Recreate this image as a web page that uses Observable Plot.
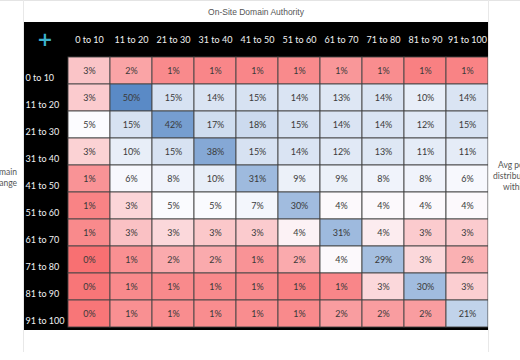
<!DOCTYPE html>
<html><head><meta charset="utf-8">
<script src="https://cdn.jsdelivr.net/npm/d3@7"></script>
<script src="https://cdn.jsdelivr.net/npm/@observablehq/plot@0.6"></script>
<style>
body{margin:0;background:#fff;}
#chart svg{display:block;}
</style>
</head><body><div id="chart"></div>
<script>
const colLabels = ["0 to 10","11 to 20","21 to 30","31 to 40","41 to 50","51 to 60","61 to 70","71 to 80","81 to 90","91 to 100"];
const rowLabels = ["0 to 10","11 to 20","21 to 30","31 to 40","41 to 50","51 to 60","61 to 70","71 to 80","81 to 90","91 to 100"];
// percent values per off-site row (decimals estimated from cell shading)
const r0_10   = [2.8, 1.8, 1.0, 0.9, 0.9, 1.0, 1.4, 1.1, 0.7, 0.8];
const r11_20  = [3.0, 50, 15, 14, 15, 14, 13, 14, 10, 14];
const r21_30  = [4.6, 15, 42, 17, 18, 15, 14, 14, 12, 15];
const r31_40  = [3.2, 10, 15, 38, 15, 14, 12, 13, 11, 11];
const r41_50  = [1.3, 6, 8, 10, 31, 9, 9, 8, 8, 6];
const r51_60  = [0.8, 3.3, 5, 5, 7, 30, 4.4, 4.4, 4.4, 4.4];
const r61_70  = [1.0, 2.7, 3.4, 2.9, 3.0, 4.2, 31, 4.0, 3.0, 3.0];
const r71_80  = [0.2, 1.2, 2.0, 2.0, 1.3, 2.0, 4.4, 29, 3.4, 2.2];
const r81_90  = [0.4, 1.0, 1.0, 1.0, 1.0, 0.7, 0.9, 3.4, 30, 3.1];
const r91_100 = [0.4, 1.2, 1.1, 1.1, 1.1, 1.0, 1.6, 1.6, 1.6, 21];
const rowValues = [r0_10, r11_20, r21_30, r31_40, r41_50, r51_60, r61_70, r71_80, r81_90, r91_100];

const cells = [];
rowLabels.forEach((r, i) => colLabels.forEach((c, j) => cells.push({row: r, col: c, value: rowValues[i][j]})));

const svg = Plot.plot({
  width: 520, height: 360,
  marginLeft: 68, marginRight: 32, marginTop: 54, marginBottom: 30,
  style: {fontFamily: "Lato, sans-serif", background: "transparent", overflow: "visible"},
  x: {domain: colLabels, padding: 0, axis: null},
  y: {domain: rowLabels, padding: 0, axis: null},
  color: {type: "linear", domain: [0, 4.5, 50], range: ["#f8696b", "#fcfcff", "#5a8ac6"], interpolate: "rgb"},
  marks: [
    Plot.cell(cells, {x: "col", y: "row", fill: "value", stroke: "#444", strokeWidth: 0.9}),
    Plot.text(cells, {x: "col", y: "row", text: d => Math.round(d.value) + "%", fill: "#3a3a3a", fontSize: 9}),
    Plot.text(colLabels, {x: d => d, frameAnchor: "top", dy: -18, fill: "#f2f2f2", fontSize: 9}),
    Plot.text(rowLabels, {y: d => d, frameAnchor: "left", dx: -43, dy: 7, textAnchor: "start", fill: "#f2f2f2", fontSize: 9})
  ]
});

const s = d3.select(svg);
// black header / row-label band
s.insert("rect", ":first-child").attr("x", 23).attr("y", 22).attr("width", 465).attr("height", 308).attr("fill", "#000");
// faint sheet borders
s.append("line").attr("x1", 0).attr("x2", 520).attr("y1", 0.5).attr("y2", 0.5).attr("stroke", "#e4e4e4");
s.append("line").attr("x1", 23.5).attr("x2", 23.5).attr("y1", 0).attr("y2", 352).attr("stroke", "#e8e8e8");
s.append("line").attr("x1", 488.5).attr("x2", 488.5).attr("y1", 0).attr("y2", 352).attr("stroke", "#e8e8e8");
// plus icon
s.append("text").attr("x", 45).attr("y", 46).attr("text-anchor", "middle").attr("fill", "#3db1cc")
  .attr("font-size", 19).attr("font-weight", "bold").attr("font-family", "DejaVu Sans, sans-serif").text("+");
// title
s.append("text").attr("x", 256).attr("y", 15).attr("text-anchor", "middle").attr("fill", "#555")
  .attr("font-size", 8.5).attr("font-family", "Liberation Sans, Arial, sans-serif").text("On-Site Domain Authority");
// left side label (cut off by page edge, as in the source screenshot)
const lt = s.append("text").attr("text-anchor", "end").attr("fill", "#555").attr("font-size", 8.5)
  .attr("font-family", "Lato, sans-serif");
lt.append("tspan").attr("x", 17).attr("y", 175).text("Off-Site Domain");
lt.append("tspan").attr("x", 17).attr("y", 186).text("Authority Range");
// right side label (cut off by page edge, as in the source screenshot)
const rt = s.append("text").attr("text-anchor", "start").attr("fill", "#555").attr("font-size", 8.5)
  .attr("font-family", "Lato, sans-serif");
rt.append("tspan").attr("x", 498).attr("y", 168).text("Avg position");
rt.append("tspan").attr("x", 493).attr("y", 179).text("distribution");
rt.append("tspan").attr("x", 503).attr("y", 190).text("within range");

document.getElementById("chart").appendChild(svg);
</script>
</body></html>
